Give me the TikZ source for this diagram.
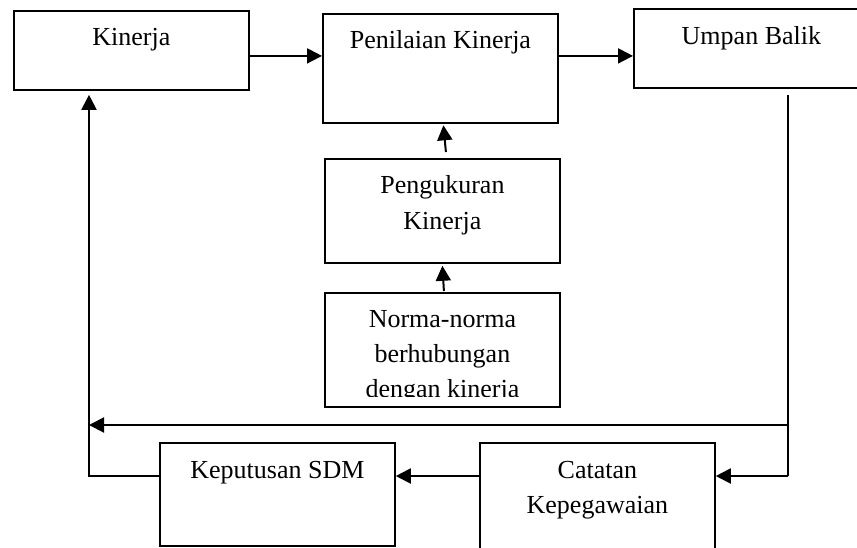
\documentclass[tikz,border=0pt]{standalone}
\usepackage{fontspec}
\setmainfont{Liberation Serif}
\usetikzlibrary{arrows.meta,positioning}
\tikzset{
  kotak/.style={draw, line width=1.8pt, inner sep=0pt, anchor=north west, minimum width=235pt},
  teks/.style={font=\fontsize{26}{35.5}\selectfont, inner sep=0pt, anchor=base},
  garis/.style={line width=2pt},
  panah/.style={line width=2pt, -{Triangle[length=15pt,width=15pt]}}
}
\begin{document}
\begin{tikzpicture}[x=1pt, y=-1pt]
        \clip (0,0) rectangle (857,547); %ukuran gambar
        %%%%%%%%%%%%%%%%%%%%%%%% Baris atas %%%%%%%%%%%%%%%%%%%%%%%%%%%%%%%%%%%
        \node[kotak, minimum height=79pt] (kin) at (13,10) {};
        \node[kotak, minimum height=109pt] (pen) at (322,13) {};
        \node[kotak, minimum height=79pt] (ump) at (633,8) {};
        \node[teks] (kinT) at ([yshift=-35pt]kin.north) {Kinerja};
        \node[teks] (penT) at ([yshift=-35pt]pen.north) {Penilaian Kinerja};
        \node[teks] (umpT) at ([yshift=-36pt]ump.north) {Umpan Balik};
        %%%%%%%%%%%%%%%%%%%%%%%% Kolom tengah %%%%%%%%%%%%%%%%%%%%%%%%%%%%%%%%%
        \node[kotak, minimum height=104pt] (pgk) at (324,158) {};
        \node[kotak, minimum height=114pt] (nor) at (324,292) {};
        \node[teks] (pgkT1) at ([yshift=-35pt]pgk.north) {Pengukuran};
        \node[teks] (pgkT2) at ([yshift=-71pt]pgk.north) {Kinerja};
        \node[teks] (norT1) at ([yshift=-35pt]nor.north) {Norma-norma};
        \node[teks] (norT2) at ([yshift=-70pt]nor.north) {berhubungan};
        \begin{scope}
          \clip (324,292) rectangle (559,396); %baris terakhir terpotong
          \node[teks] (norT3) at ([yshift=-105pt]nor.north) {dengan kinerja};
        \end{scope}
        %%%%%%%%%%%%%%%%%%%%%%%% Baris bawah %%%%%%%%%%%%%%%%%%%%%%%%%%%%%%%%%%
        \node[kotak, minimum height=103pt] (kep) at (159,442) {};
        \node[kotak, minimum height=112pt] (cat) at (479,442) {};
        \node[teks] (kepT) at ([yshift=-36pt]kep.north) {Keputusan SDM};
        \node[teks] (catT1) at ([yshift=-36pt]cat.north) {Catatan};
        \node[teks] (catT2) at ([yshift=-71pt]cat.north) {Kepegawaian};
        %%%%%%%%%%%%%%%%%%%%%%%% Panah %%%%%%%%%%%%%%%%%%%%%%%%%%%%%%%%%%%%%%%%
        \coordinate (ubBawah) at (788,95);
        \coordinate (sudutKanan) at (788,476);
        \coordinate (cabang) at (788,425);
        \coordinate (ujungKiri) at (89,425);
        \coordinate (sudutKiri) at (89,476);
        \draw[panah] ([yshift=-5.5pt]kin.east) -- ([yshift=-5.5pt]kin.east -| pen.west); %ke penilaian
        \draw[panah] ([yshift=12.5pt]pen.east) -- ([yshift=12.5pt]pen.east -| ump.west); %ke umpan balik
        \draw[panah] ([xshift=3.5pt,yshift=6pt]pgk.north) -- ([xshift=3pt,yshift=-1.5pt]pen.south); %pengukuran ke penilaian
        \draw[panah] ([xshift=1.5pt,yshift=1pt]nor.north) -- ([yshift=-2pt]pgk.south);
        \draw[garis] (ubBawah) -- (sudutKanan); %turun dari umpan balik
        \draw[panah] (sudutKanan) -- (sudutKanan -| cat.east);
        \draw[panah] (cabang) -- (ujungKiri); %balik ke kiri
        \draw[panah] (cat.west |- sudutKanan) -- (kep.east |- sudutKanan);
        \draw[panah] (kep.west |- sudutKiri) -- (sudutKiri) -- ([yshift=-4pt]sudutKiri |- kin.south); %naik ke kinerja
      \end{tikzpicture}
\end{document}
